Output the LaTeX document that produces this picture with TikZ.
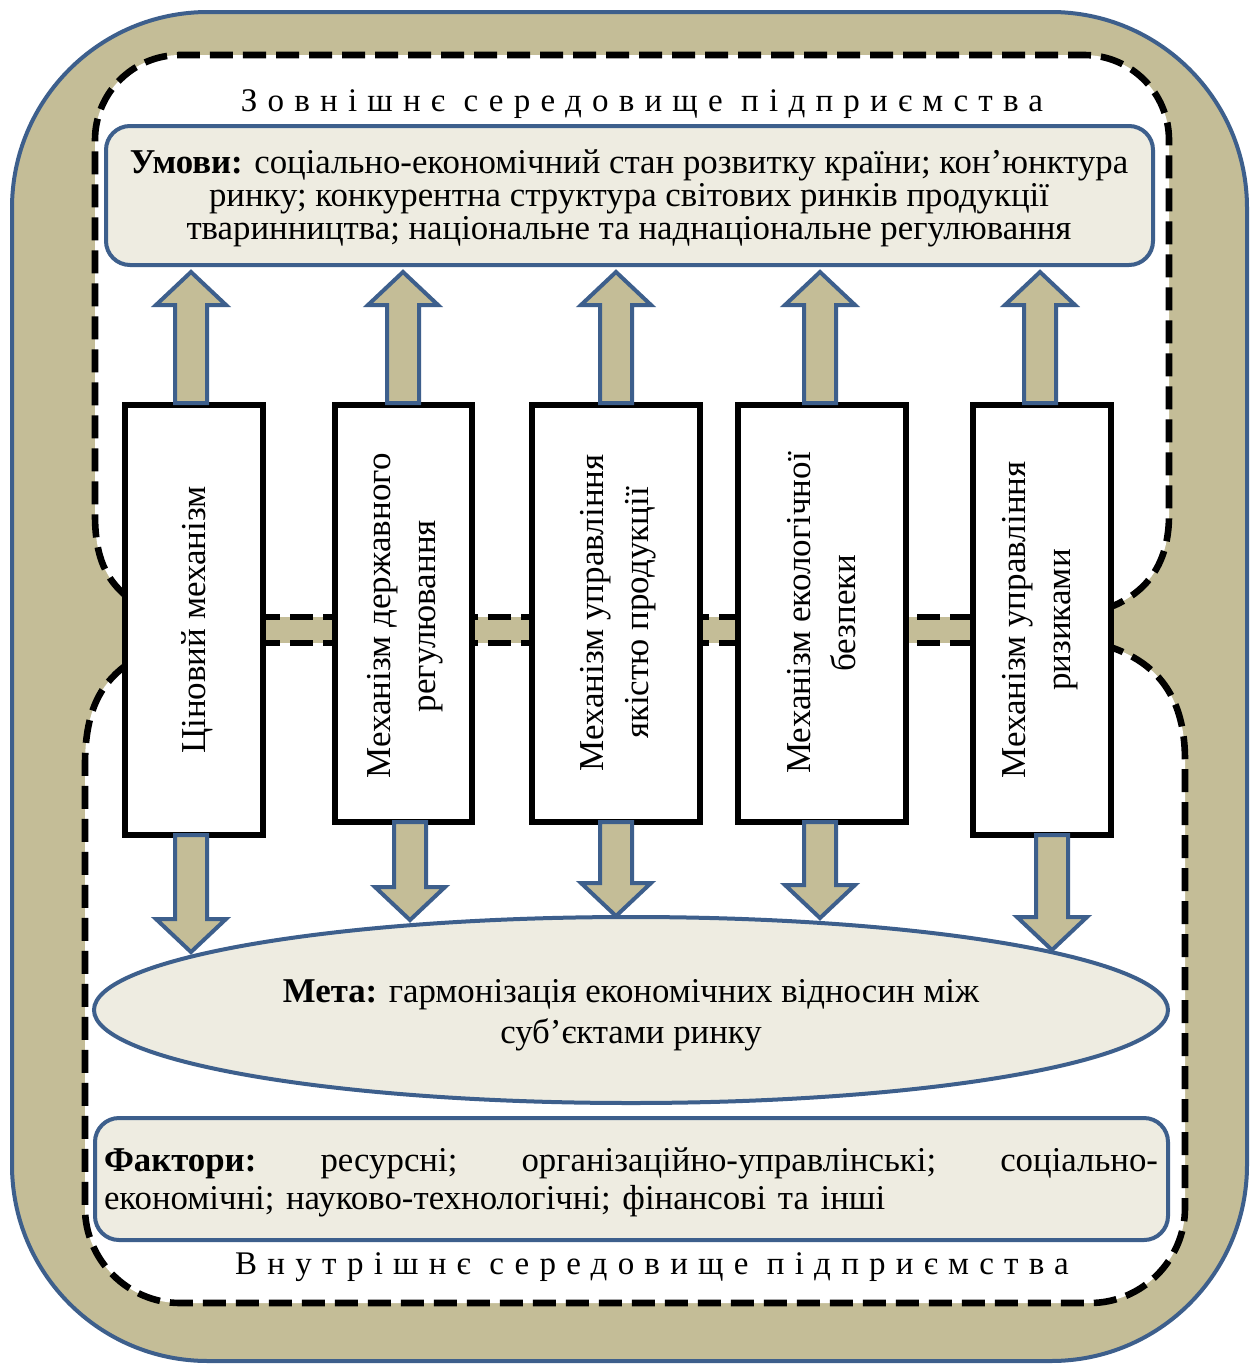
\documentclass[tikz,border=0pt]{standalone}
\usepackage{fontspec}
\setmainfont{Liberation Serif}
\usetikzlibrary{calc}
\definecolor{mytan}{HTML}{C4BD97}
\definecolor{myblue}{HTML}{3D5F8C}
\definecolor{mybeige}{HTML}{EEECE1}
\newcommand{\myUpArr}[3]{% cx, tip y, bottom y
  \draw[blockarr] (#1,#2) -- ++(35,33) -- ++(-19,0) -- (#1+16,#3) -- (#1-16,#3) -- (#1-16,#2+33) -- ++(-19,0) -- cycle;}
\newcommand{\myDownArr}[3]{% cx, top y, tip y
  \draw[blockarr] (#1,#3) -- ++(35,-33) -- ++(-19,0) -- (#1+16,#2) -- (#1-16,#2) -- (#1-16,#3-33) -- ++(-19,0) -- cycle;}
\tikzset{
  blockarr/.style={fill=mytan, draw=myblue, line width=2pt, line join=miter},
  dashline/.style={draw=black, line width=3.3pt, dash pattern=on 11.5pt off 5pt},
  mech/.style={draw=black, fill=white, line width=2.6pt, inner sep=0pt},
  mechtext/.style={rotate=90, align=center, font=\fontsize{17.5}{22.5}\selectfont},
  infobox/.style={draw=myblue, fill=mybeige, line width=2pt, rounded corners=12pt},
  title/.style={font=\fontsize{16.5}{18}\selectfont\addfontfeature{LetterSpace=31}},
}
\begin{document}
\begin{tikzpicture}[x=0.5pt,y=-0.5pt]
\useasboundingbox (0,0) rectangle (1252,1365);
% outer frame
\draw[fill=mytan, draw=myblue, line width=2pt, rounded corners=98pt] (12,12) rectangle (1247,1361);
% upper white region
\path[fill=white] (125,595) .. controls (108,580) and (95,560) .. (95,515) -- (95,140) .. controls (95,93) and (133,55) .. (180,55) -- (1084,55) .. controls (1131,55) and (1169,93) .. (1169,140) -- (1169,515) .. controls (1169,560) and (1150,590) .. (1113,606) -- (1113,617) -- (125,617) -- cycle;
\path[dashline] (125,595) .. controls (108,580) and (95,560) .. (95,515) -- (95,140) .. controls (95,93) and (133,55) .. (180,55) -- (1084,55) .. controls (1131,55) and (1169,93) .. (1169,140) -- (1169,515) .. controls (1169,560) and (1150,590) .. (1113,606);
% lower white region
\path[fill=white] (125,666) .. controls (100,685) and (85,712) .. (85,765) -- (85,1208) .. controls (85,1260) and (128,1303) .. (180,1303) -- (1090,1303) .. controls (1142,1303) and (1185,1260) .. (1185,1208) -- (1185,760) .. controls (1185,700) and (1160,665) .. (1113,648) -- (1113,643) -- (125,643) -- cycle;
\path[dashline] (125,666) .. controls (100,685) and (85,712) .. (85,765) -- (85,1208) .. controls (85,1260) and (128,1303) .. (180,1303) -- (1090,1303) .. controls (1142,1303) and (1185,1260) .. (1185,1208) -- (1185,760) .. controls (1185,700) and (1160,665) .. (1113,648);
% strip
\fill[mytan] (125,617) rectangle (1113,643);
\draw[dashline] (125,617) -- (1113,617);
\draw[dashline] (125,643) -- (1113,643);
% titles
\node[title] (ext) at (642,104) {Зовнішнє середовище підприємства};
\node[title] (int) at (652,1267) {Внутрішнє середовище підприємства};
% conditions box
\node[infobox, minimum width=523.5pt, minimum height=69.5pt] (cond) at (629.5,195.5) {};
\node[align=center, font=\fontsize{17.4}{16.5}\selectfont] at (629,198) {\textbf{Умови:} соціально-економічний стан розвитку країни; кон’юнктура\\ ринку; конкурентна структура світових ринків продукції\\ тваринництва; національне та наднаціональне регулювання};
% mechanism boxes
\node[mech, minimum width=69pt, minimum height=215pt] (b1) at (194,620) {};
\node[mech, minimum width=68.5pt, minimum height=208.5pt] (b2) at (403.5,613.5) {};
\node[mech, minimum width=84pt, minimum height=208.5pt] (b3) at (616,613.5) {};
\node[mech, minimum width=84pt, minimum height=208.5pt] (b4) at (822,613.5) {};
\node[mech, minimum width=69pt, minimum height=215pt] (b5) at (1042,620) {};
\node[mechtext] at (197,620) {Ціновий механізм};
\node[mechtext] at (405,616) {Механізм державного\\регулювання};
\node[mechtext] at (618,613) {Механізм управління\\якістю продукції};
\node[mechtext] at (822,613) {Механізм екологічної\\безпеки};
\node[mechtext] at (1040,620) {Механізм управління\\ризиками};
% up arrows
\myUpArr{191}{272}{403}
\myUpArr{403}{272}{403}
\myUpArr{616}{272}{403}
\myUpArr{820}{272}{403}
\myUpArr{1040}{272}{403}
% goal ellipse
\draw[draw=myblue, fill=mybeige, line width=2pt] (631,1010) ellipse [x radius=537, y radius=93];
\node (goal) [align=center, font=\fontsize{17.4}{20.5}\selectfont] at (631,1015) {\textbf{Мета:} гармонізація економічних відносин між\\суб’єктами ринку};
% down arrows
\myDownArr{191}{835}{952}
\myDownArr{410}{822}{920}
\myDownArr{616}{822}{916}
\myDownArr{820}{822}{918}
\myDownArr{1052}{835}{950}
% factors box
\node[infobox, minimum width=536.5pt, minimum height=61pt] (fact) at (631.5,1179) {};
\node[text width=527pt, align=left, inner sep=0pt, font=\fontsize{17.4}{19}\selectfont] at (631,1182) {\textbf{Фактори:}\hfill ресурсні;\hfill організаційно-управлінські;\hfill соціально-\\економічні; науково-технологічні; фінансові та інші};
\end{tikzpicture}
\end{document}
